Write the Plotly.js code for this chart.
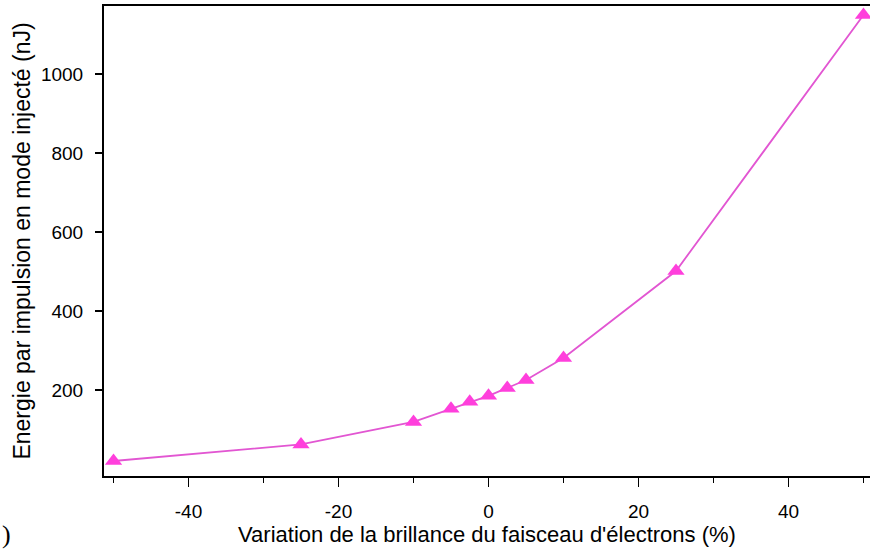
<!DOCTYPE html>
<html>
<head>
<meta charset="utf-8">
<script src="https://cdn.plot.ly/plotly-3.0.1.min.js"></script>
<style>
html,body{margin:0;padding:0;background:#fff;}
#chart{width:870px;height:552px;}
</style>
</head>
<body>
<div id="chart"></div>
<script>
const variation = [-50, -25, -10, -5, -2.5, 0, 2.5, 5, 10, 25, 50];
const energie = [20, 62, 119, 152, 170, 185, 205, 225, 281, 501, 1149];
const xTicks = [-40, -20, 0, 20, 40];
const xTickText = ['-40', '-20', '0', '20', '40'];
const xMinorTicks = [-50, -30, -10, 10, 30, 50];
const yTicks = [200, 400, 600, 800, 1000];
const xTitle = "Variation de la brillance du faisceau d'électrons (%)";
const yTitle = "Energie par impulsion en mode injecté (nJ)";

const trace = {
  x: variation,
  y: energie,
  type: 'scatter',
  mode: 'lines+markers',
  line: {color: '#e256d2', width: 1.8},
  marker: {symbol: 'triangle-up', size: 15, color: '#ff3fdc'},
  cliponaxis: false,
  showlegend: false
};

const layout = {
  width: 870, height: 552,
  margin: {l: 104, r: 0, t: 6, b: 76},
  paper_bgcolor: '#fff', plot_bgcolor: '#fff',
  font: {family: 'Liberation Sans, Arial, sans-serif', color: '#000', size: 19},
  xaxis: {
    range: [-51.27, 50.87],
    tickvals: xTicks, ticktext: xTickText,
    ticks: 'outside', ticklen: 9, tickwidth: 1.5, tickcolor: '#000',
    minor: {tickvals: xMinorTicks, ticks: 'outside', ticklen: 5, tickwidth: 1.5, tickcolor: '#000'},
    showline: true, linecolor: '#000', linewidth: 2, mirror: true,
    showgrid: false, zeroline: false,
    tickfont: {size: 19},
    ticklabelstandoff: 8,
    title: {text: xTitle, font: {size: 22}, standoff: 4}
  },
  yaxis: {
    range: [-18, 1172],
    tickvals: yTicks,
    ticks: 'outside', ticklen: 7, tickwidth: 1.5, tickcolor: '#000',
    showline: true, linecolor: '#000', linewidth: 2, mirror: false,
    showgrid: false, zeroline: false,
    tickfont: {size: 19},
    ticklabelstandoff: 8,
    title: {text: yTitle, font: {size: 23}, standoff: 4}
  },
  annotations: [{
    text: ')', xref: 'paper', yref: 'paper', x: -104/766, y: -58/470,
    xanchor: 'left', yanchor: 'middle', showarrow: false,
    font: {family: 'Liberation Serif, Times New Roman, serif', size: 26, color: '#000'}
  }]
};

Plotly.newPlot('chart', [trace], layout, {displayModeBar: false, staticPlot: true});
</script>
</body>
</html>
